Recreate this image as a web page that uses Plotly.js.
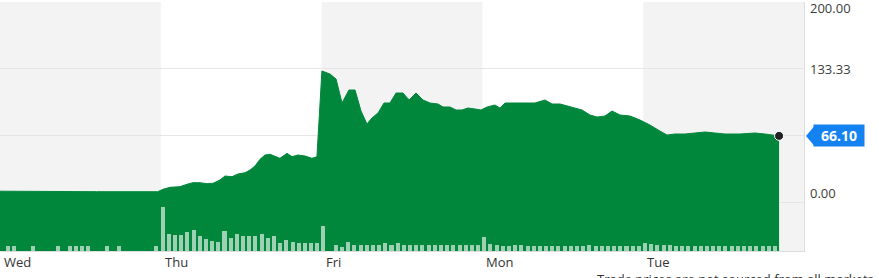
<!DOCTYPE html>
<html>
<head>
<meta charset="utf-8">
<script src="https://cdn.plot.ly/plotly-3.0.1.min.js"></script>
<style>
  html, body { margin: 0; padding: 0; background: #ffffff; }
  #chart { width: 879px; height: 278px; }
</style>
</head>
<body>
<div id="chart"></div>
<script>
// ---- data (x in trading-day units: 0 = Wed open, 1 = Thu open, ...) ----
const dayLabels = ["Wed", "Thu", "Fri", "Mon", "Tue"];
const dayStarts = [0, 1, 2, 3, 4];

const priceT = [
  0.000, 0.300, 0.600, 0.980,
  1.014, 1.057, 1.119, 1.163, 1.200, 1.244, 1.287, 1.325, 1.368, 1.399,
  1.443, 1.480, 1.524, 1.555, 1.586, 1.617, 1.648, 1.679, 1.710, 1.741,
  1.785, 1.816, 1.853, 1.897, 1.940, 1.971,
  2.002, 2.052, 2.090, 2.127, 2.170, 2.208, 2.245, 2.282, 2.313, 2.351,
  2.388, 2.425, 2.463, 2.506, 2.544, 2.587, 2.631, 2.674, 2.724, 2.755,
  2.799, 2.836, 2.873, 2.910, 2.954, 2.991,
  3.029, 3.078, 3.109, 3.141, 3.203, 3.265, 3.327, 3.389, 3.433, 3.483,
  3.545, 3.619, 3.669, 3.713, 3.762, 3.806, 3.856, 3.918, 3.980,
  4.042, 4.104, 4.148, 4.198, 4.260, 4.322, 4.384, 4.446, 4.509, 4.602,
  4.695, 4.757, 4.845
];
const priceV = [
  10.8, 10.3, 10.3, 10.3,
  12.7, 14.7, 15.3, 17.7, 19.3, 19.3, 18.3, 18.7, 22.0, 26.0,
  25.3, 28.0, 29.3, 32.0, 36.0, 42.7, 47.0, 47.7, 45.3, 43.7,
  48.7, 45.3, 47.0, 46.0, 43.7, 45.3,
  131.0, 128.0, 123.0, 99.0, 112.0, 112.0, 91.0, 78.0, 84.0, 89.0,
  99.0, 99.0, 109.0, 109.0, 102.0, 109.0, 102.0, 99.0, 98.0, 95.0,
  95.0, 92.0, 92.0, 94.0, 93.0, 92.0,
  95.0, 97.0, 94.0, 99.0, 99.0, 99.0, 99.0, 102.0, 98.0, 98.0,
  95.0, 92.0, 87.0, 85.0, 86.0, 91.0, 87.0, 86.0, 82.0,
  77.0, 71.0, 67.0, 68.0, 68.0, 69.0, 70.0, 69.0, 68.0, 68.0,
  69.0, 68.0, 66.1
];
const lastPrice = 66.10;

// volume per 15-minute slot, 26 slots per day (thousands of shares)
const volWed = [0,5,5,0,0,5,0,0,0,5,0,5,5,5,5,0,0,5,0,5,0,0,0,0,0,5];
const volThu = [44,17,16,16,19,21,15,12,10,9,20,13,17,15,15,15,17,13,15,8,11,9,8,8,8,8];
const volFri = [25,0,6,4,9,6,6,6,6,6,8,6,8,6,6,6,6,6,6,6,6,6,6,6,6,6];
const volMon = [14,7,6,5,5,6,6,5,5,5,5,5,5,5,5,5,5,6,5,5,5,5,5,5,5,5];
const volTue = [8,7,6,6,6,5,5,5,5,5,5,5,5,5,5,5,5,5,5,5,5,5];

const yTickVals = [0, 66.67, 133.33, 200];
const yTickText = ["0.00", "66.67", "133.33", "200.00"];
const footerText = "Trade prices are not sourced from all markets";

// ---- build ----
const SLOTS = 26;
const volX = [], volY = [];
[volWed, volThu, volFri, volMon, volTue].forEach((arr, d) => {
  arr.forEach((v, k) => { volX.push(d + (k + 0.3) / SLOTS); volY.push(v); });
});

const yMin = -49, yMax = 200;
const green = "#00873c";
const font = "'Open Sans', 'Noto Sans', sans-serif";

const traces = [
  { x: [priceT[0], priceT[priceT.length - 1]], y: [yMin, yMin], mode: "lines",
    line: { width: 0, color: green }, hoverinfo: "skip", showlegend: false },
  { x: priceT, y: priceV, mode: "lines", fill: "tonexty", fillcolor: green,
    line: { color: green, width: 1, shape: "linear" }, showlegend: false },
  { x: volX, y: volY, type: "bar", yaxis: "y2", width: 0.025,
    marker: { color: "rgba(255,255,255,0.62)", line: { width: 0 } }, showlegend: false },
  { x: [priceT[priceT.length - 1]], y: [lastPrice], mode: "markers",
    marker: { size: 9, color: "#222222", line: { color: "#ffffff", width: 1 } }, showlegend: false }
];

const shapes = [];
[0, 2, 4].forEach(d => shapes.push({
  type: "rect", xref: "x", yref: "paper", x0: d, x1: d + 1, y0: 0, y1: 1,
  fillcolor: "#f3f3f3", line: { width: 0 }, layer: "below"
}));
// arrow of the last-price badge
shapes.push({
  type: "path", xref: "paper", yref: "y", xsizemode: "pixel", ysizemode: "pixel",
  xanchor: 1, yanchor: lastPrice, path: "M 2 0 L 10 9.5 L 10 -9.5 Z",
  fillcolor: "#1482f0", line: { width: 0 }, layer: "above"
});

const annotations = [];
dayLabels.forEach((t, i) => annotations.push({
  text: t, xref: "x", yref: "paper", x: dayStarts[i], y: -0.044,
  xanchor: "left", yanchor: "middle", xshift: 2, showarrow: false,
  font: { family: font, size: 13, color: "#333333" }
}));
const tickShift = { "200.00": -6, "133.33": 0, "0.00": 9 };
yTickVals.forEach((v, i) => {
  const t = yTickText[i];
  if (!(t in tickShift)) return;
  annotations.push({
    text: t, xref: "paper", yref: "y", x: 1, y: v, xanchor: "left", yanchor: "middle",
    xshift: 4, yshift: tickShift[t], showarrow: false,
    font: { family: font, size: 13, color: "#3c3c3c" }
  });
});
annotations.push({
  text: "<b>" + lastPrice.toFixed(2) + "</b>", xref: "paper", yref: "y", x: 1, y: lastPrice,
  xanchor: "left", yanchor: "middle", xshift: 9, showarrow: false,
  bgcolor: "#1482f0", borderpad: 2, width: 46, height: 17,
  font: { family: font, size: 14, color: "#ffffff" }
});
annotations.push({
  text: footerText, xref: "paper", yref: "paper", x: 0.74, y: -0.112,
  xanchor: "left", yanchor: "middle", showarrow: false,
  font: { family: font, size: 13, color: "#333333" }
});

const layout = {
  width: 879, height: 278,
  margin: { l: 0, r: 75, t: 2, b: 27 },
  paper_bgcolor: "#ffffff", plot_bgcolor: "#ffffff",
  showlegend: false, bargap: 0,
  xaxis: { range: [0, 5], showgrid: false, zeroline: false, showticklabels: false,
           ticks: "", showline: true, linecolor: "#dddddd", linewidth: 1, fixedrange: true },
  yaxis: { range: [yMin, yMax], side: "right", tickvals: yTickVals, showticklabels: false,
           showgrid: true, gridcolor: "#e6e6e6", gridwidth: 1, zeroline: false,
           showline: true, linecolor: "#dddddd", linewidth: 1, ticks: "" },
  yaxis2: { overlaying: "y", range: [0, 249], visible: false, showgrid: false },
  shapes: shapes,
  annotations: annotations
};

Plotly.newPlot("chart", traces, layout, { staticPlot: true, displayModeBar: false });
</script>
</body>
</html>
